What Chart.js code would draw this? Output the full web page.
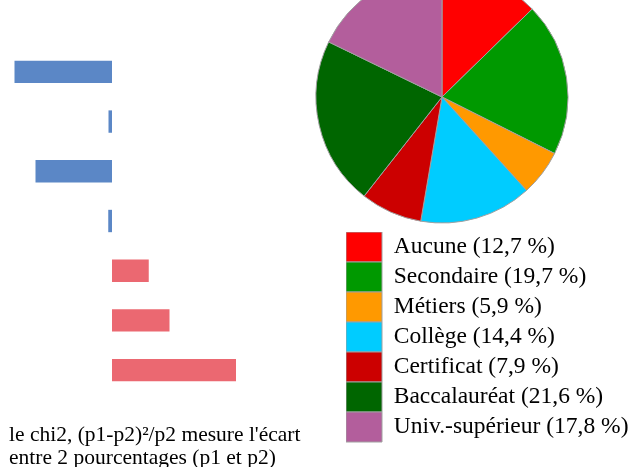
<!DOCTYPE html>
<html>
<head>
<meta charset="utf-8">
<script src="https://cdn.jsdelivr.net/npm/chart.js@4"></script>
<style>
  html, body { margin: 0; padding: 0; background: #fff; overflow: hidden; }
  body { width: 637px; height: 467px; position: relative; }
  #ecarts { position: absolute; left: 0; top: 0; }
  #niveaux { position: absolute; left: 300px; top: -38px; }
  #note {
    position: absolute; left: 9px; top: 423px;
    font-family: "Liberation Serif", "Times New Roman", serif;
    font-size: 21.5px; line-height: 23px; color: #000; white-space: nowrap;
  }
</style>
</head>
<body>
<canvas id="ecarts" width="300" height="420"></canvas>
<canvas id="niveaux" width="337" height="490"></canvas>
<div id="note">le chi2, (p1-p2)²/p2 mesure l'écart<br>entre 2 pourcentages (p1 et p2)</div>

<script>
// niveaux de scolarité et leur part (%)
var niveaux = ['Aucune', 'Secondaire', 'Métiers', 'Collège', 'Certificat', 'Baccalauréat', 'Univ.-supérieur'];
var parts = [12.7, 19.7, 5.9, 14.4, 7.9, 21.6, 17.8];
var couleurs = ['#FF0000', '#009900', '#FF9900', '#00CCFF', '#CC0000', '#006600', '#B35E9C'];

// chi2 signé pour chaque niveau (négatif = sous-représenté)
var ecarts = [-3.90, -0.14, -3.06, -0.15, 1.47, 2.30, 4.96];

var serif = '"Liberation Serif", "Times New Roman", serif';

// barres horizontales des écarts
var ctx1 = document.getElementById('ecarts').getContext('2d');
new Chart(ctx1, {
  type: 'bar',
  data: {
    labels: niveaux,
    datasets: [{
      data: ecarts,
      backgroundColor: ecarts.map(function (v) { return v < 0 ? '#5B87C6' : '#EB6871'; }),
      borderWidth: 0,
      barPercentage: 0.9,
      categoryPercentage: 0.5
    }]
  },
  options: {
    indexAxis: 'y',
    responsive: false,
    animation: false,
    layout: { padding: { top: 47, bottom: 25, left: 12, right: 38 } },
    plugins: { legend: { display: false }, tooltip: { enabled: false } },
    scales: {
      x: { display: false, min: -4, max: 6 },
      y: { display: false }
    }
  }
});

// le camembert est décalé vers la gauche de la légende
var decalage = {
  id: 'decalage',
  beforeDatasetsDraw: function (chart) {
    chart.ctx.save();
    chart.ctx.translate(-49.5, 0);
  },
  afterDatasetsDraw: function (chart) {
    chart.ctx.restore();
  }
};

// camembert + légende
var etiquettes = niveaux.map(function (n, i) {
  return n + ' (' + parts[i].toFixed(1).replace('.', ',') + ' %)';
});

var ctx2 = document.getElementById('niveaux').getContext('2d');
new Chart(ctx2, {
  type: 'pie',
  data: {
    labels: etiquettes,
    datasets: [{
      data: parts,
      backgroundColor: couleurs,
      borderColor: '#A0A0A0',
      borderWidth: 1,
      radius: 126,
      clip: false
    }]
  },
  plugins: [decalage],
  options: {
    responsive: false,
    animation: false,
    layout: { padding: { top: 0, bottom: 0, left: 46, right: 0 } },
    plugins: {
      tooltip: { enabled: false },
      legend: {
        position: 'bottom',
        align: 'start',
        labels: {
          boxWidth: 36,
          boxHeight: 30,
          padding: 0,
          color: '#000',
          font: { family: serif, size: 23.5 }
        }
      }
    }
  }
});
</script>
</body>
</html>
